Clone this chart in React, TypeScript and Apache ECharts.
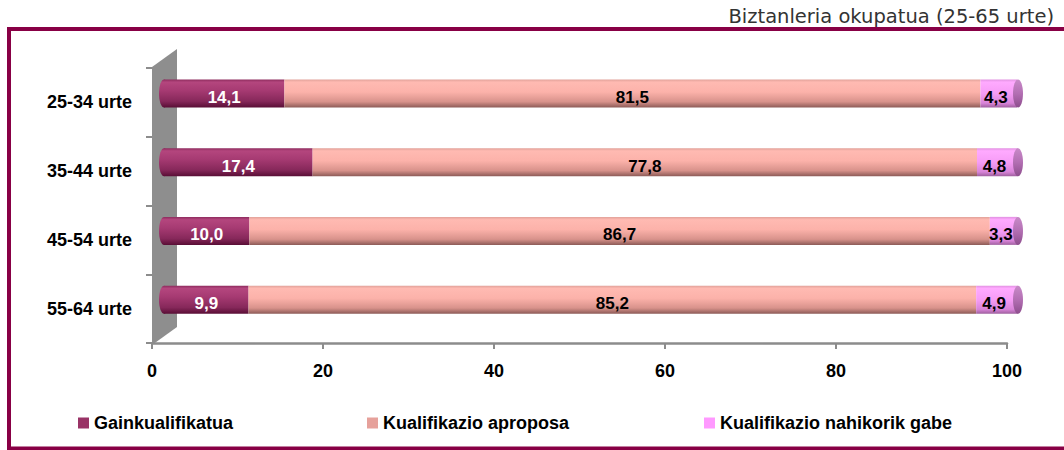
import React, { useEffect, useRef } from "react";
import * as echarts from "echarts";

const categories = ["25-34 urte", "35-44 urte", "45-54 urte", "55-64 urte"];
const seriesNames = ["Gainkualifikatua", "Kualifikazio aproposa", "Kualifikazio nahikorik gabe"];
const gainkualifikatua = [14.1, 17.4, 10.0, 9.9];
const aproposa = [81.5, 77.8, 86.7, 85.2];
const nahikorikGabe = [4.3, 4.8, 3.3, 4.9];
const xTicks = [0, 20, 40, 60, 80, 100];
const titleText = "Biztanleria okupatua (25-65 urte)";

const SANS = "'Liberation Sans', Arial, sans-serif";
const legendColors = ["#993366", "#E6A19B", "#FF99FF"];
const legendLefts = [73, 362, 699];

const grad = (stops: [number, string][]) =>
  new echarts.graphic.LinearGradient(0, 0, 0, 1, stops.map(([offset, color]) => ({ offset, color })));

const maroonGrad = () =>
  grad([[0, "#8c2a5c"], [0.1, "#b4467e"], [0.4, "#a63a72"], [0.78, "#86285a"], [1, "#5a0e36"]]);
const salmonGrad = () =>
  grad([[0, "#e0a098"], [0.1, "#ffbab2"], [0.45, "#fcb2aa"], [0.8, "#d8928b"], [1, "#8e5c58"]]);
const pinkGrad = () =>
  grad([[0, "#e090e0"], [0.1, "#ffaaff"], [0.5, "#f69cf6"], [0.85, "#d884d8"], [1, "#a060a0"]]);
const capGrad = () =>
  grad([[0, "#c88ac8"], [0.5, "#b36fb3"], [1, "#8e4e8e"]]);

const fmt = (p: any) => Number(p.value).toFixed(1).replace(".", ",");

export default function App() {
  const ref = useRef<HTMLDivElement>(null);
  useEffect(() => {
    document.body.style.margin = "0";
    if (!ref.current) return;
    const chart = echarts.init(ref.current, null, { renderer: "svg" });

    const labelBase = {
      show: true,
      position: "inside",
      fontFamily: SANS,
      fontWeight: "bold",
      fontSize: 17,
      offset: [0, 4],
      formatter: fmt,
    };

    const capSeries = (xVal: number, colorFn: () => any, z: number, name: string) => ({
      type: "custom",
      name,
      xAxisIndex: 1,
      yAxisIndex: 1,
      z,
      silent: true,
      data: categories.map((c) => [xVal, c]),
      encode: { x: 0, y: 1 },
      renderItem: (params: any, api: any) => {
        const pt = api.coord([api.value(0), api.value(1)]);
        return {
          type: "ellipse",
          shape: { cx: pt[0], cy: pt[1], rx: 5, ry: 14 },
          style: { fill: colorFn() },
        };
      },
    });

    const option: any = {
      animation: false,
      graphic: [
        {
          type: "rect",
          z: 0,
          shape: { x: 9, y: 29, width: 1070, height: 419.5 },
          style: { fill: "none", stroke: "#880045", lineWidth: 4 },
        },
        {
          type: "polygon",
          z: 0,
          shape: { points: [[152, 67], [177, 49], [177, 327], [152, 345]] },
          style: { fill: "#8e8e8e" },
        },
        {
          type: "text",
          z: 5,
          x: 1054,
          y: 26,
          style: {
            text: titleText,
            align: "right",
            verticalAlign: "bottom",
            fontFamily: "'DejaVu Sans', sans-serif",
            fontSize: 19.5,
            fill: "#333333",
          },
        },
      ],
      legend: seriesNames.map((n, i) => ({
        data: [{ name: n, itemStyle: { color: legendColors[i] } }],
        left: legendLefts[i],
        top: 409,
        icon: "rect",
        itemWidth: 11,
        itemHeight: 11,
        selectedMode: false,
        textStyle: { fontFamily: SANS, fontWeight: "bold", fontSize: 18, color: "#000" },
      })),
      grid: [
        { left: 152, right: 57, top: 68, height: 275, containLabel: false },
        { left: 164, width: 854, top: 59, height: 275, containLabel: false },
      ],
      xAxis: [
        {
          gridIndex: 0,
          type: "value",
          min: 0,
          max: 100,
          interval: 20,
          axisLine: { show: true, lineStyle: { color: "#8c8c8c", width: 2.5 } },
          axisTick: { show: true, length: 6, lineStyle: { color: "#8c8c8c", width: 2 } },
          splitLine: { show: false },
          axisLabel: {
            margin: 19,
            fontFamily: SANS,
            fontWeight: "bold",
            fontSize: 18,
            color: "#000",
            formatter: (v: number) => (xTicks.includes(v) ? String(v) : ""),
          },
        },
        { gridIndex: 1, type: "value", min: 0, max: 100, show: false },
      ],
      yAxis: [
        {
          gridIndex: 0,
          type: "category",
          data: categories,
          inverse: true,
          axisLine: { show: false },
          axisTick: { show: true, length: 6, lineStyle: { color: "#8c8c8c", width: 2 } },
          axisLabel: {
            margin: 20,
            fontFamily: SANS,
            fontWeight: "bold",
            fontSize: 18,
            color: "#000",
          },
        },
        { gridIndex: 1, type: "category", data: categories, inverse: true, show: false },
      ],
      series: [
        capSeries(0, maroonGrad, 1, "leftCap"),
        {
          type: "bar",
          name: seriesNames[0],
          stack: "total",
          xAxisIndex: 1,
          yAxisIndex: 1,
          barWidth: 28,
          z: 2,
          data: gainkualifikatua,
          itemStyle: { color: maroonGrad() },
          label: { ...labelBase, color: "#ffffff" },
        },
        {
          type: "bar",
          name: seriesNames[1],
          stack: "total",
          xAxisIndex: 1,
          yAxisIndex: 1,
          barWidth: 28,
          z: 2,
          data: aproposa,
          itemStyle: { color: salmonGrad() },
          label: { ...labelBase, color: "#000000" },
        },
        {
          type: "bar",
          name: seriesNames[2],
          stack: "total",
          xAxisIndex: 1,
          yAxisIndex: 1,
          barWidth: 28,
          z: 2,
          data: nahikorikGabe,
          itemStyle: { color: pinkGrad() },
          label: { ...labelBase, color: "#000000", offset: [-3, 4] },
        },
        capSeries(100, capGrad, 3, "rightCap"),
      ],
    };
    chart.setOption(option);
    return () => chart.dispose();
  }, []);
  return <div ref={ref} style={{ width: 1064, height: 450 }} />;
}
